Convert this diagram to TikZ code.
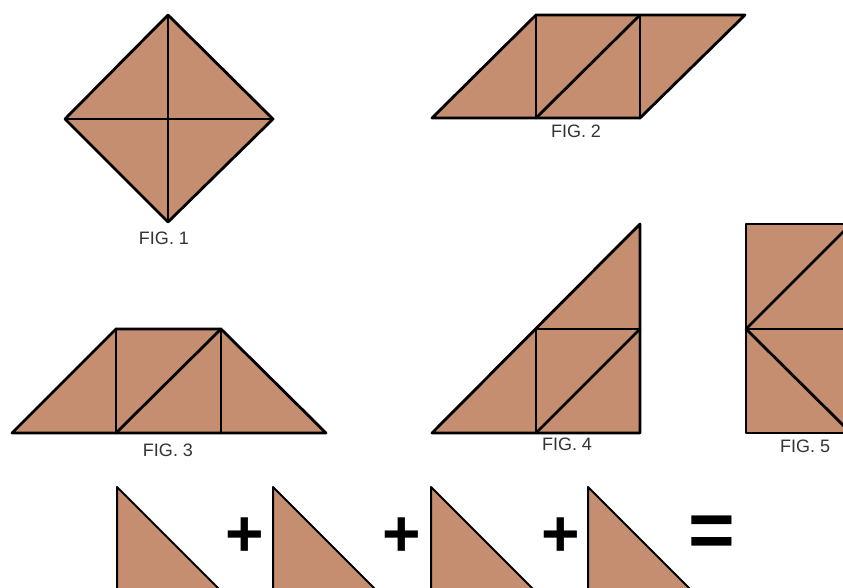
\documentclass[tikz,border=0pt]{standalone}
\usepackage{fontspec}
\setmainfont{Liberation Sans}
\usetikzlibrary{calc}
\definecolor{clay}{HTML}{C68E70}
\definecolor{labelgray}{HTML}{333333}
\tikzset{
  piece/.style={fill=clay, draw=black, line width=2.8pt, line join=round},
  cut/.style={draw=black, line width=2.8pt, line cap=round},
  figlabel/.style={font=\fontsize{18}{20}\selectfont, text=labelgray, inner sep=0pt},
  sumsign/.style={font=\fontsize{66}{66}\selectfont\bfseries, inner sep=0pt}
}

\begin{document}
\begin{tikzpicture}[x=1pt,y=-1pt]
\useasboundingbox (0,0) rectangle (843,588);
\clip (0,0) rectangle (843,588);

% fig 1: square on its corner
\draw[piece] (168,15) -- (273,119) -- (168,222) -- (65,119) -- cycle;
\draw[cut] (168,15) -- (168,222);
\draw[cut] (65,119) -- (273,119);
\node[figlabel] (fig1) at (164,238) {FIG. 1};

% fig 2: parallelogram
\draw[piece] (432,118) -- (536,15) -- (745,15) -- (640,118) -- cycle;
\draw[cut] (536,15) -- (536,118);
\draw[cut] (640,15) -- (640,118);
\draw[cut] (536,118) -- (640,15);
\node[figlabel] (fig2) at (576,131) {FIG. 2};

% fig 3: trapezoid
\draw[piece] (12,433) -- (116,329) -- (221,329) -- (326,433) -- cycle;
\draw[cut] (116,329) -- (116,433);
\draw[cut] (221,329) -- (221,433);
\draw[cut] (116,433) -- (221,329);
\node[figlabel] (fig3) at (168,450) {FIG. 3};

% fig 4: big triangle
\draw[piece] (432,433) -- (640,224) -- (640,433) -- cycle;
\draw[cut] (536,329) -- (640,329);
\draw[cut] (536,329) -- (536,433);
\draw[cut] (536,433) -- (640,329);
\node[figlabel] (fig4) at (567,444) {FIG. 4};

% fig 5: rectangle, cut by the edge
\draw[piece] (746,224) rectangle (851,433);
\draw[cut] (746,329) -- (851,329);
\draw[cut] (746,329) -- (851,224);
\draw[cut] (746,329) -- (851,433);
\node[figlabel] (fig5) at (805,446) {FIG. 5};

% four pieces added up
\foreach \x in {117,273,431,588} {
  \draw[piece, line width=2pt] (\x,487) -- (\x,591) -- (\x+104,591) -- cycle;
}
\foreach \x [count=\i] in {245,402,561} {
  \node[sumsign] (plus\i) at (\x,537) {+};
}
\node[sumsign, font=\fontsize{80}{80}\selectfont\bfseries] (equals) at (712,537) {=};
\end{tikzpicture}
\end{document}
